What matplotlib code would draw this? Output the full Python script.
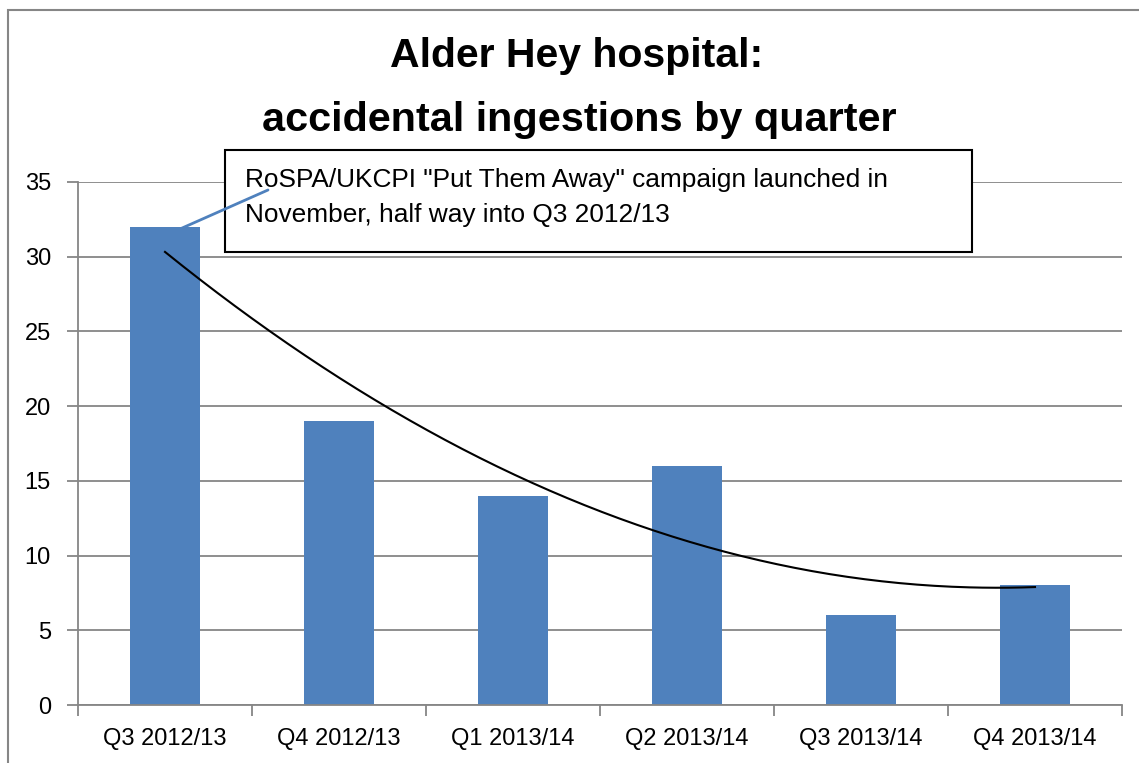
import numpy as np
import matplotlib.pyplot as plt
from matplotlib.patches import Rectangle

quarters = ['Q3 2012/13', 'Q4 2012/13', 'Q1 2013/14', 'Q2 2013/14', 'Q3 2013/14', 'Q4 2013/14']
ingestions = [32, 19, 14, 16, 6, 8]
title_lines = ['Alder Hey hospital:', 'accidental ingestions by quarter']
note_lines = ['RoSPA/UKCPI "Put Them Away" campaign launched in',
              'November, half way into Q3 2012/13']

plt.rcParams['font.family'] = ['Liberation Sans', 'DejaVu Sans']

W, H = 1139, 763
fig = plt.figure(figsize=(W / 100, H / 100), dpi=100)
ff = fig.transFigure

# outer chart border (runs off the right and bottom edges)
fig.patches.append(Rectangle((8 / W, -0.05), 1.1, 1 - 10 / H + 0.05, transform=ff,
                             fill=False, edgecolor='#868686', lw=1.5))

ax = fig.add_axes([78 / W, 58 / H, (1122 - 78) / W, (705 - 182) / H])
x = np.arange(len(quarters))
ax.bar(x, ingestions, width=0.4, color='#4F81BD', zorder=2)

# polynomial (order 2) trendline, like Excel
coef = np.polyfit(x, ingestions, 2)
xs = np.linspace(x[0], x[-1], 200)
ax.plot(xs, np.polyval(coef, xs), color='black', lw=1.5, zorder=3)

ax.set_xlim(-0.5, len(quarters) - 0.5)
ax.set_ylim(0, 35)
ax.set_yticks(range(0, 36, 5))
ax.yaxis.grid(True, color='#868686', lw=1.3)
ax.set_axisbelow(True)

ax.set_xticks(np.arange(-0.5, len(quarters), 1))
ax.set_xticklabels([])
ax.set_xticks(x, minor=True)
ax.set_xticklabels(quarters, minor=True)
ax.tick_params(axis='x', which='major', length=8, color='#868686', width=1.3)
ax.tick_params(axis='x', which='minor', length=0, pad=16.5, labelsize=17)
ax.tick_params(axis='y', length=8, color='#868686', width=1.3, labelsize=17, pad=11.5)

for s in ['top', 'right']:
    ax.spines[s].set_visible(False)
for s in ['left', 'bottom']:
    ax.spines[s].set_color('#868686')
    ax.spines[s].set_linewidth(1.3)

fig.text(577 / W, 1 - 67 / H, title_lines[0], ha='center', va='baseline', fontsize=29.5, fontweight='bold')
fig.text(579 / W, 1 - 131 / H, title_lines[1], ha='center', va='baseline', fontsize=29.8, fontweight='bold')

# annotation box (kept in the axes so the arrow can sit on top of it)
ax.add_patch(Rectangle((225 / W, 1 - 252 / H), (972 - 225) / W, (252 - 150) / H,
                       transform=ff, facecolor='white', edgecolor='black',
                       lw=1.5, zorder=5, clip_on=False))
ax.text(245 / W, 1 - 187 / H, note_lines[0], transform=ff, ha='left', va='baseline',
        fontsize=18.9, zorder=6, clip_on=False)
ax.text(245 / W, 1 - 222 / H, note_lines[1], transform=ff, ha='left', va='baseline',
        fontsize=18.9, zorder=6, clip_on=False)

ax.annotate('', xy=(-0.08, 31.0), xycoords='data',
            xytext=(268 / W, 1 - 190 / H), textcoords='figure fraction',
            arrowprops=dict(arrowstyle='->', color='#4F81BD', lw=2, shrinkA=0, shrinkB=0),
            zorder=7, annotation_clip=False)

fig.savefig('out.png', dpi=100)
